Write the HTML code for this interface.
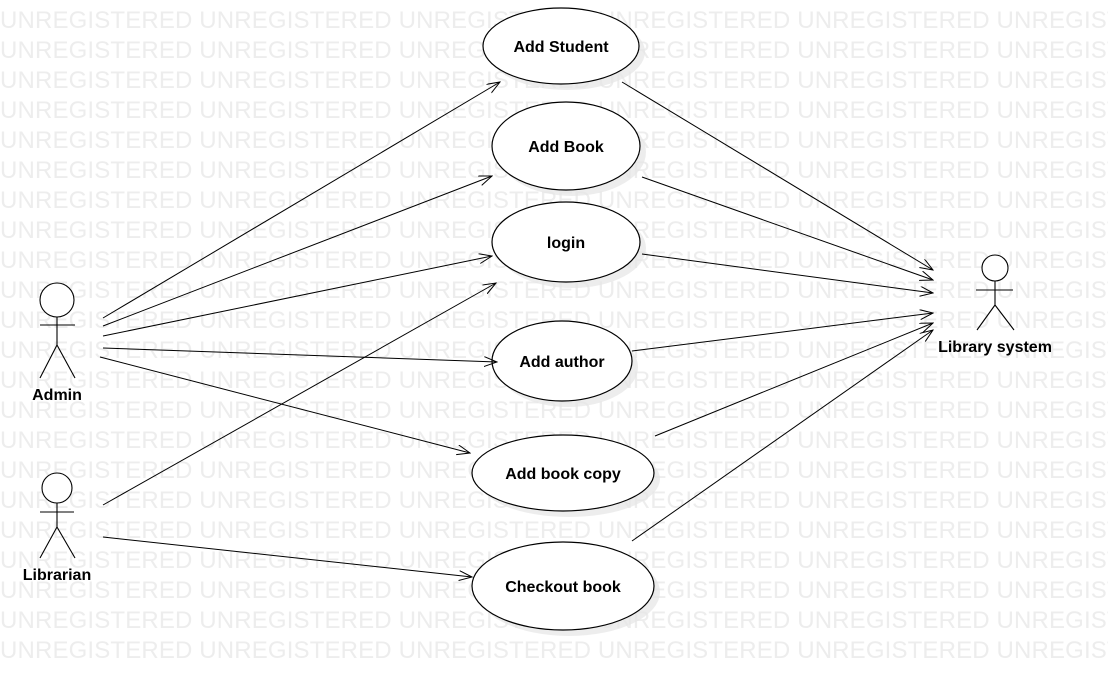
<!DOCTYPE html>
<html><head><meta charset="utf-8"><style>
html,body{margin:0;width:1108px;height:681px;overflow:hidden}
body{background:#fff;position:relative;font-family:"Liberation Sans",sans-serif}
.wm{position:absolute;left:0;top:6px;width:1108px;height:660px;overflow:hidden;color:#ededed;font-size:24px;line-height:30px;white-space:pre;letter-spacing:0.15px}
svg{position:absolute;left:0;top:0}
</style></head><body>
<div class="wm" id="wm"></div>
<script>
var r="",l="UNREGISTERED UNREGISTERED UNREGISTERED UNREGISTERED UNREGISTERED UNREGISTERED";
for(var i=0;i<22;i++)r+=l+"\n";document.getElementById("wm").textContent=r;
</script>
<svg width="1108" height="681" font-family="Liberation Sans, sans-serif" font-size="16" font-weight="bold">
<defs><marker id="a" markerWidth="14" markerHeight="12" refX="13" refY="5" orient="auto" markerUnits="userSpaceOnUse"><path d="M0,0 L13,5 L0,10" fill="none" stroke="#000" stroke-width="1"/></marker></defs>
<g fill="#e6e6e6" opacity="0.7">
<ellipse cx="567" cy="52" rx="78" ry="38"/><ellipse cx="572" cy="152" rx="74" ry="44"/><ellipse cx="572" cy="248" rx="74" ry="40"/>
<ellipse cx="568" cy="367" rx="70" ry="40"/><ellipse cx="569" cy="479" rx="91" ry="38"/><ellipse cx="569" cy="592" rx="91" ry="44"/>
</g>
<g fill="#fff" stroke="#000" stroke-width="1.2">
<ellipse cx="561" cy="46" rx="78" ry="38"/><ellipse cx="566" cy="146" rx="74" ry="44"/><ellipse cx="566" cy="242" rx="74" ry="40"/>
<ellipse cx="562" cy="361" rx="70" ry="40"/><ellipse cx="563" cy="473" rx="91" ry="38"/><ellipse cx="563" cy="586" rx="91" ry="44"/>
</g>
<g text-anchor="middle">
<text x="561" y="52">Add Student</text><text x="566" y="152">Add Book</text><text x="566" y="248">login</text>
<text x="562" y="367">Add author</text><text x="563" y="479">Add book copy</text><text x="563" y="592">Checkout book</text>
<text x="57" y="400">Admin</text><text x="57" y="580">Librarian</text><text x="995" y="352">Library system</text>
</g>
<g stroke="#000" stroke-width="1.1" fill="#fff">
<circle cx="57" cy="300" r="17"/><path d="M57 317V345M40 325H75M57 345L40 378M57 345L75 378" fill="none"/>
<circle cx="57" cy="488" r="15"/><path d="M57 503V527M40 512H74M57 527L40 558M57 527L75 558" fill="none"/>
<circle cx="995" cy="268" r="13"/><path d="M995 281V305M976 290H1013M995 305L977 330M995 305L1014 330" fill="none"/>
</g>
<g stroke="#000" stroke-width="1" marker-end="url(#a)">
<line x1="103" y1="318" x2="500" y2="82"/><line x1="103" y1="326" x2="492" y2="176"/><line x1="103" y1="336" x2="492" y2="256"/>
<line x1="103" y1="348" x2="497" y2="362"/><line x1="100" y1="357" x2="470" y2="453"/>
<line x1="103" y1="505" x2="496" y2="283"/><line x1="103" y1="537" x2="472" y2="577"/>
<line x1="622" y1="82" x2="933" y2="270"/><line x1="642" y1="177" x2="933" y2="280"/><line x1="642" y1="254" x2="933" y2="293"/>
<line x1="632" y1="351" x2="933" y2="313"/><line x1="655" y1="436" x2="933" y2="323"/><line x1="632" y1="541" x2="933" y2="330"/>
</g>
</svg>
</body></html>
